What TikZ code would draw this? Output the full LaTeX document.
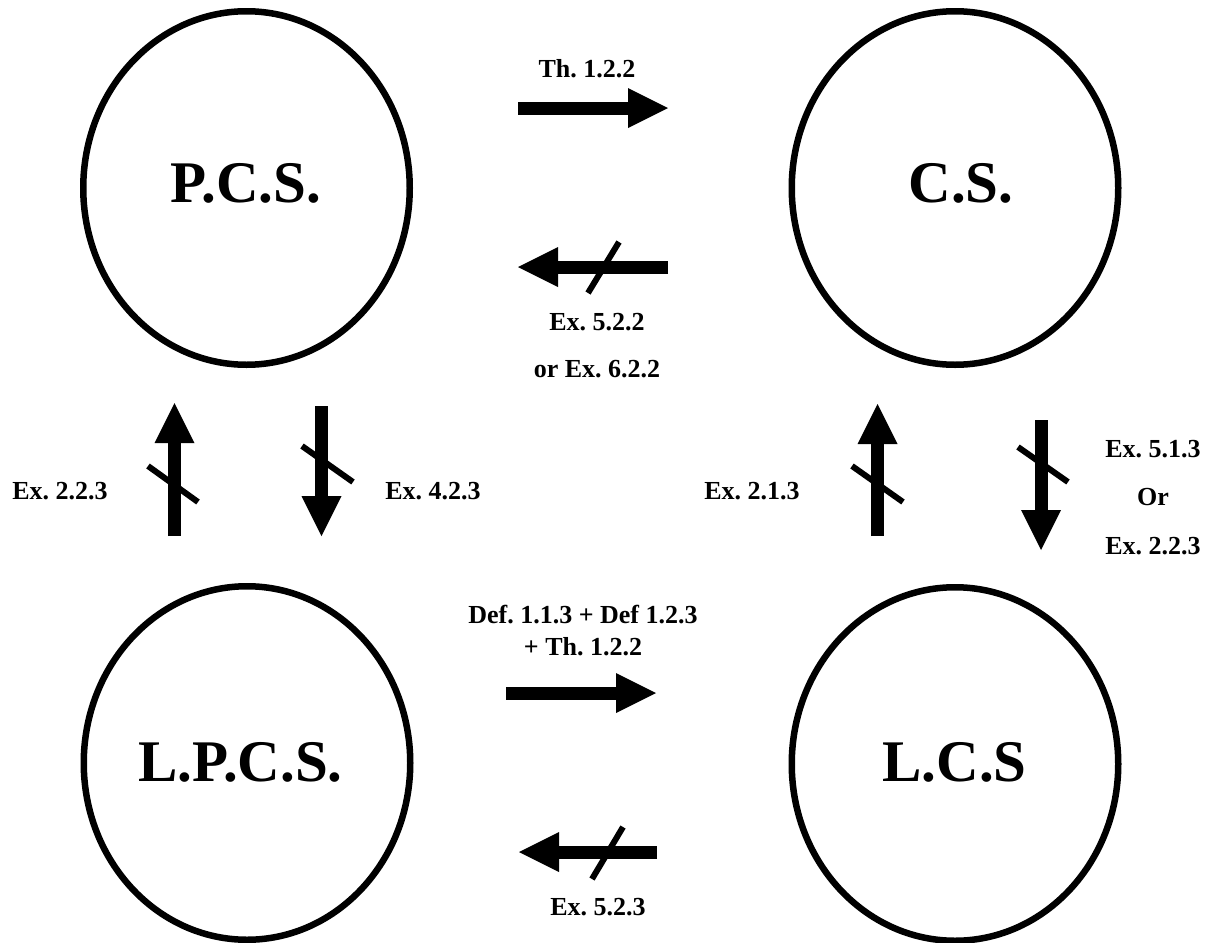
\documentclass[tikz,border=0pt]{standalone}
\usepackage{fontspec}
\setmainfont{Liberation Serif}
\usetikzlibrary{shapes.geometric,arrows.meta}
\frenchspacing
\tikzset{
  setnode/.style={ellipse, draw=black, line width=6.5pt, minimum width=326.5pt, minimum height=353.5pt, inner sep=0pt},
  bigtext/.style={font=\fontsize{59}{62}\selectfont\bfseries, inner sep=0pt, anchor=base},
  lbl/.style={font=\fontsize{26}{30}\selectfont\bfseries, inner sep=0pt, anchor=base},
  bigarrow/.style={line width=13pt, -{Triangle[width=40pt,length=40pt,line width=0pt]}},
  notslash/.style={line width=6pt}
}
\begin{document}
\begin{tikzpicture}[x=1pt,y=-1pt]
\useasboundingbox (0,0) rectangle (1211,943);
% sets
\node[setnode] (pcs) at (246.5,188) {};
\node[setnode] (cs) at (955,188) {};
\node[setnode] (lpcs) at (247,763) {};
\node[setnode] (lcs) at (955,764) {};
\node[bigtext] (tpcs) at (246,202) {P.C.S.};
\node[bigtext] (tcs) at (961,202) {C.S.};
\node[bigtext] (tlpcs) at (240.5,781) {L.P.C.S.};
\node[bigtext] (tlcs) at (954.5,781) {L.C.S};
% top horizontal arrows
\coordinate (a1s) at (518,108); \coordinate (a1e) at (668,108);
\draw[bigarrow] (a1s) -- (a1e);
\node[lbl] (l1) at (587,77) {Th. 1.2.2};
\coordinate (a2s) at (668,267); \coordinate (a2e) at (518,267);
\draw[bigarrow] (a2s) -- (a2e);
\coordinate (s2a) at (588,293); \coordinate (s2b) at (619,242);
\draw[notslash] (s2a) -- (s2b);
\node[lbl] (l2a) at (597,330) {Ex. 5.2.2};
\node[lbl] (l2b) at (597,377) {or Ex. 6.2.2};
% left vertical arrows
\coordinate (a3s) at (174.5,536); \coordinate (a3e) at (174.5,403);
\draw[bigarrow] (a3s) -- (a3e);
\coordinate (s3a) at (148,466); \coordinate (s3b) at (198,502);
\draw[notslash] (s3a) -- (s3b);
\node[lbl] (l3) at (60,499) {Ex. 2.2.3};
\coordinate (a4s) at (321.5,406); \coordinate (a4e) at (321.5,536);
\draw[bigarrow] (a4s) -- (a4e);
\coordinate (s4a) at (302,446); \coordinate (s4b) at (353,482);
\draw[notslash] (s4a) -- (s4b);
\node[lbl] (l4) at (433,499) {Ex. 4.2.3};
% right vertical arrows
\coordinate (a5s) at (877.5,536); \coordinate (a5e) at (877.5,404);
\draw[bigarrow] (a5s) -- (a5e);
\coordinate (s5a) at (852,466); \coordinate (s5b) at (903,502);
\draw[notslash] (s5a) -- (s5b);
\node[lbl] (l5) at (752,499) {Ex. 2.1.3};
\coordinate (a6s) at (1041,420); \coordinate (a6e) at (1041,550);
\draw[bigarrow] (a6s) -- (a6e);
\coordinate (s6a) at (1018,447); \coordinate (s6b) at (1068,482);
\draw[notslash] (s6a) -- (s6b);
\node[lbl] (l6a) at (1153,457) {Ex. 5.1.3};
\node[lbl] (l6b) at (1153,505) {Or};
\node[lbl] (l6c) at (1153,554) {Ex. 2.2.3};
% bottom horizontal arrows
\node[lbl] (l7a) at (583,623) {Def. 1.1.3 + Def 1.2.3};
\node[lbl] (l7b) at (583,655) {+ Th. 1.2.2};
\coordinate (a7s) at (506,693); \coordinate (a7e) at (656,693);
\draw[bigarrow] (a7s) -- (a7e);
\coordinate (a8s) at (657,852); \coordinate (a8e) at (519,852);
\draw[bigarrow] (a8s) -- (a8e);
\coordinate (s8a) at (592,879); \coordinate (s8b) at (623,827);
\draw[notslash] (s8a) -- (s8b);
\node[lbl] (l8) at (598,915) {Ex. 5.2.3};
\end{tikzpicture}
\end{document}
